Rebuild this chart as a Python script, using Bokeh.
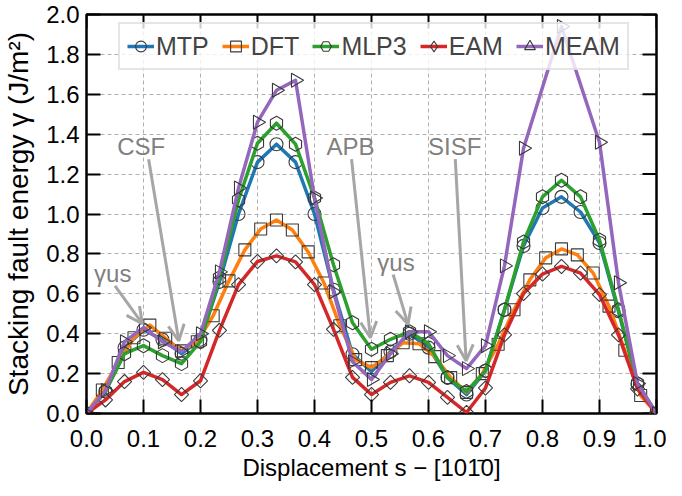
from bokeh.plotting import figure
from bokeh.models import (Range1d, FixedTicker, Label, Arrow, OpenHead,
                          Legend, LegendItem, NumeralTickFormatter, ColumnDataSource)
from bokeh.embed import file_html
from bokeh.resources import INLINE
import math

# ---------------- data ----------------
x30 = [0.0, 0.0333, 0.0667, 0.1, 0.1333, 0.1667, 0.2, 0.2333, 0.2667, 0.3, 0.3333,
       0.3667, 0.4, 0.4333, 0.4667, 0.5, 0.5333, 0.5667, 0.6, 0.6333, 0.6667,
       0.7, 0.7333, 0.7667, 0.8, 0.8333, 0.8667, 0.9, 0.9333, 0.9667, 1.0]
x36 = [0.0, 0.0278, 0.0556, 0.0833, 0.1111, 0.1389, 0.1667, 0.1944, 0.2222, 0.25,
       0.2778, 0.3056, 0.3333, 0.3611, 0.3889, 0.4167, 0.4444, 0.4722, 0.5, 0.5278,
       0.5556, 0.5833, 0.6111, 0.6389, 0.6667, 0.6944, 0.7222, 0.75, 0.7778, 0.8056,
       0.8333, 0.8611, 0.8889, 0.9167, 0.9444, 0.9722, 1.0]
x_meam = [0.0, 0.0333, 0.0667, 0.1, 0.1333, 0.1667, 0.2, 0.2333, 0.2667, 0.3, 0.3333,
          0.3667, 0.4, 0.4333, 0.4667, 0.5, 0.5333, 0.5667, 0.6, 0.6333, 0.6667,
          0.7, 0.7333, 0.7667, 0.8333, 0.9, 0.9333, 0.9667, 1.0]

mtp = [0, 0.11, 0.33, 0.42, 0.37, 0.30, 0.37, 0.66, 1.00, 1.26, 1.35, 1.26, 1.00, 0.62,
       0.297, 0.21, 0.31, 0.40, 0.33, 0.18, 0.095, 0.214, 0.52, 0.84, 1.03, 1.086, 1.01,
       0.855, 0.513, 0.148, 0]
dft = [0, 0.118, 0.256, 0.38, 0.443, 0.377, 0.314, 0.36, 0.49, 0.665, 0.82, 0.925, 0.97,
       0.92, 0.81, 0.654, 0.44, 0.27, 0.23, 0.29, 0.355, 0.35, 0.285, 0.18, 0.106, 0.20,
       0.347, 0.52, 0.67, 0.78, 0.825, 0.795, 0.704, 0.538, 0.317, 0.09, 0]
mlp3 = [0, 0.11, 0.30, 0.34, 0.29, 0.25, 0.36, 0.68, 1.07, 1.355, 1.455, 1.35, 1.08, 0.746,
        0.455, 0.322, 0.372, 0.41, 0.35, 0.18, 0.11, 0.214, 0.52, 0.86, 1.086, 1.169, 1.086,
        0.87, 0.52, 0.15, 0]
eam = [0, 0.068, 0.16, 0.206, 0.17, 0.095, 0.164, 0.417, 0.646, 0.762, 0.79, 0.76, 0.646,
       0.422, 0.181, 0.095, 0.156, 0.189, 0.156, 0.081, 0.005, 0.128, 0.394, 0.601, 0.699,
       0.737, 0.704, 0.596, 0.394, 0.123, 0]
meam = [0, 0.115, 0.36, 0.43, 0.36, 0.31, 0.40, 0.71, 1.13, 1.46, 1.62, 1.67, 1.08, 0.61,
        0.26, 0.17, 0.30, 0.41, 0.41, 0.29, 0.225, 0.34, 0.74, 1.33, 1.94, 1.36, 0.655,
        0.15, 0]

x_ticks = [0.0, 0.1, 0.2, 0.3, 0.4, 0.5, 0.6, 0.7, 0.8, 0.9, 1.0]
y_ticks = [0.0, 0.2, 0.4, 0.6, 0.8, 1.0, 1.2, 1.4, 1.6, 1.8, 2.0]
X_MAX = 1.0
Y_MAX = 2.0

# annotations: label, text x, text y, arrow start x, y, arrow end x, y
ann_labels = ["γus", "CSF", "APB", "γus", "SISF"]
ann_tx = [0.046, 0.096, 0.463, 0.543, 0.646]
ann_ty = [0.70, 1.34, 1.34, 0.757, 1.34]
ann_x0 = [0.050, 0.109, 0.465, 0.538, 0.647]
ann_y0 = [0.64, 1.275, 1.275, 0.697, 1.275]
ann_x1 = [0.098, 0.162, 0.498, 0.564, 0.666]
ann_y1 = [0.45, 0.364, 0.38, 0.448, 0.264]

# ---------------- figure ----------------
FONT = "Liberation Sans"
p = figure(width=666, height=488, output_backend="svg", toolbar_location=None,
           x_range=Range1d(0, X_MAX), y_range=Range1d(0, Y_MAX),
           min_border_left=80, min_border_right=10, min_border_top=14, min_border_bottom=75)
p.background_fill_color = "white"
p.border_fill_color = "white"
p.outline_line_color = "black"
p.outline_line_width = 2.5

for ax in (p.xaxis[0], p.yaxis[0]):
    ax.major_label_text_font = FONT
    ax.major_label_text_font_size = "24px"
    ax.major_label_text_color = "black"
    ax.axis_label_text_font = FONT
    ax.axis_label_text_font_size = "24px"
    ax.axis_label_text_font_style = "normal"
    ax.axis_label_text_color = "black"
    ax.axis_line_color = None
    ax.major_tick_in = 14
    ax.major_tick_out = 0
    ax.major_tick_line_width = 2
    ax.minor_tick_line_color = None
    ax.formatter = NumeralTickFormatter(format="0.0")

p.xaxis[0].ticker = FixedTicker(ticks=x_ticks)
p.yaxis[0].ticker = FixedTicker(ticks=y_ticks)
p.xaxis[0].axis_label = "Displacement s − [101\u03040]"
p.yaxis[0].axis_label = "Stacking fault energy γ (J/m²)"
p.yaxis[0].axis_label_text_font_size = "28px"
p.xaxis[0].major_label_standoff = 16
p.yaxis[0].major_label_standoff = 7
p.xaxis[0].axis_label_standoff = 4
p.yaxis[0].axis_label_standoff = 9

p.xgrid.ticker = FixedTicker(ticks=x_ticks)
p.ygrid.ticker = FixedTicker(ticks=y_ticks)
for g in (p.xgrid[0], p.ygrid[0]):
    g.grid_line_color = "#b0b0b0"
    g.grid_line_dash = "4 3"
    g.grid_line_width = 1

# inward ticks on the top and right edges (dash markers clipped by the frame)
p.scatter(x=x_ticks, y=[Y_MAX] * len(x_ticks), marker="dash", size=28, angle=math.pi / 2,
          line_color="black", line_width=2)
p.scatter(x=[X_MAX] * len(y_ticks), y=y_ticks, marker="dash", size=28,
          line_color="black", line_width=2)

series = [
    ("MTP", x30, mtp, "#1f77b4", "circle", 13, 0.0, "circle"),
    ("DFT", x36, dft, "#ff7f0e", "square", 12, 0.0, "square"),
    ("MLP3", x30, mlp3, "#2ca02c", "hex", 14, math.pi / 6, "hex"),
    ("EAM", x30, eam, "#d62728", "square", 10, math.pi / 4, "diamond"),
    ("MEAM", x_meam, meam, "#9467bd", "triangle", 14, -math.pi / 2, "triangle"),
]
NAN = float("nan")
items = []
for name, xs, ys, col, mk, sz, ang, legmk in series:
    src = ColumnDataSource(dict(x=xs, y=ys))
    r1 = p.line("x", "y", source=src, line_color=col, line_width=3.5, line_join="round")
    p.scatter("x", "y", source=src, marker=mk, size=sz, angle=ang, fill_color=None,
              line_color="#3a3a3a", line_width=1.1)
    # legend-only marker sample (its single point is not a number, so nothing is drawn in the plot)
    r3 = p.scatter(x=[NAN], y=[NAN], marker=legmk, size=sz, fill_color=None,
                   line_color="#3a3a3a", line_width=1.1)
    items.append(LegendItem(label=name, renderers=[r1, r3]))

legend = Legend(items=items, orientation="horizontal", location=(32, 343),
                label_text_font=FONT, label_text_font_size="25px",
                glyph_width=27, glyph_height=30, label_standoff=2, spacing=13,
                padding=7, margin=0, border_line_color="#cccccc", border_line_width=2,
                background_fill_alpha=0.8)
p.add_layout(legend, "center")

for i, lab in enumerate(ann_labels):
    p.add_layout(Arrow(end=OpenHead(size=16, line_color="#a6a6a6", line_width=3),
                       x_start=ann_x0[i], y_start=ann_y0[i], x_end=ann_x1[i], y_end=ann_y1[i],
                       line_color="#a6a6a6", line_width=3))
    p.add_layout(Label(x=ann_tx[i], y=ann_ty[i], text=lab, text_align="center",
                       text_baseline="middle", text_color="#808080", text_font=FONT,
                       text_font_size="24px"))

open("out.html", "w").write(file_html(p, INLINE))
